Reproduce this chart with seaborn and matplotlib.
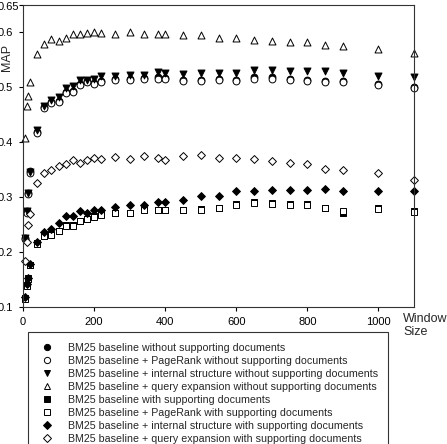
import matplotlib
matplotlib.use("Agg")
import matplotlib.pyplot as plt
from matplotlib.lines import Line2D
from matplotlib.transforms import ScaledTranslation
import seaborn as sns

# window sizes
window = [5, 10, 15, 20, 40, 60, 80, 100, 120, 140, 160, 180, 200, 220, 260, 300,
          340, 380, 400, 450, 500, 550, 600, 650, 700, 750, 800, 850, 900, 1000, 1100]

# MAP values, without supporting documents
bm25_without = [0.226, 0.274, 0.307, 0.347, 0.419, 0.465, 0.474, 0.476, 0.491, 0.494,
                0.506, 0.512, 0.508, 0.512, 0.515, 0.515, 0.517, 0.518, 0.517, 0.514,
                0.514, 0.515, 0.514, 0.518, 0.518, 0.515, 0.514, 0.512, 0.511, 0.506, 0.501]
pagerank_without = [0.224, 0.272, 0.305, 0.344, 0.417, 0.463, 0.472, 0.474, 0.489, 0.492,
                    0.504, 0.510, 0.506, 0.510, 0.513, 0.513, 0.515, 0.516, 0.515, 0.512,
                    0.512, 0.513, 0.512, 0.516, 0.516, 0.513, 0.512, 0.510, 0.509, 0.504, 0.499]
internal_without = [0.226, 0.274, 0.307, 0.346, 0.422, 0.466, 0.477, 0.482, 0.499, 0.502,
                    0.513, 0.513, 0.516, 0.521, 0.521, 0.522, 0.523, 0.528, 0.527, 0.525,
                    0.526, 0.527, 0.527, 0.532, 0.531, 0.530, 0.529, 0.529, 0.526, 0.521, 0.518]
qe_without = [0.408, 0.466, 0.484, 0.509, 0.560, 0.579, 0.588, 0.585, 0.590, 0.597,
              0.598, 0.599, 0.600, 0.599, 0.597, 0.600, 0.598, 0.597, 0.597, 0.596,
              0.595, 0.590, 0.589, 0.587, 0.585, 0.582, 0.582, 0.577, 0.576, 0.570, 0.562]

# MAP values, with supporting documents
bm25_with = [0.116, 0.140, 0.152, 0.177, 0.216, 0.230, 0.233, 0.239, 0.249, 0.249,
             0.257, 0.261, 0.265, 0.269, 0.272, 0.272, 0.278, 0.277, 0.277, 0.277,
             0.278, 0.281, 0.288, 0.292, 0.289, 0.288, 0.287, 0.281, 0.272, 0.280, 0.275]
pagerank_with = [0.114, 0.138, 0.151, 0.176, 0.215, 0.229, 0.232, 0.238, 0.248, 0.248,
                 0.256, 0.260, 0.264, 0.268, 0.271, 0.271, 0.277, 0.276, 0.276, 0.276,
                 0.277, 0.280, 0.286, 0.290, 0.288, 0.286, 0.285, 0.280, 0.274, 0.279, 0.273]
internal_with = [0.118, 0.141, 0.153, 0.178, 0.219, 0.237, 0.242, 0.253, 0.266, 0.266,
                 0.274, 0.271, 0.276, 0.277, 0.283, 0.286, 0.286, 0.291, 0.291, 0.294,
                 0.303, 0.302, 0.311, 0.311, 0.313, 0.313, 0.313, 0.314, 0.312, 0.312, 0.311]
qe_with = [0.183, 0.219, 0.250, 0.270, 0.326, 0.344, 0.349, 0.356, 0.361, 0.367,
           0.363, 0.367, 0.371, 0.369, 0.374, 0.370, 0.375, 0.371, 0.367, 0.375,
           0.376, 0.372, 0.372, 0.369, 0.365, 0.363, 0.361, 0.352, 0.349, 0.344, 0.331]

labels = [
    "BM25 baseline without supporting documents",
    "BM25 baseline + PageRank without supporting documents",
    "BM25 baseline + internal structure without supporting documents",
    "BM25 baseline + query expansion without supporting documents",
    "BM25 baseline with supporting documents",
    "BM25 baseline + PageRank with supporting documents",
    "BM25 baseline + internal structure with supporting documents",
    "BM25 baseline + query expansion with supporting documents",
]
series = [bm25_without, pagerank_without, internal_without, qe_without,
          bm25_with, pagerank_with, internal_with, qe_with]
markers = ["o", "o", "v", "^", "s", "s", "D", "D"]
fills = ["black", "white", "black", "white", "black", "white", "black", "white"]
sizes = [24, 24, 25, 25, 19, 19, 16, 16]

sns.set_style("white")
plt.rcParams["font.family"] = ["Liberation Sans", "DejaVu Sans"]

fig = plt.figure(figsize=(4.47, 4.44), dpi=100)
ax = fig.add_axes([23 / 447, 1 - 307 / 444, (414 - 23) / 447, (307 - 5) / 444])

for vals, mk, fc, sz in zip(series, markers, fills, sizes):
    sns.scatterplot(x=window, y=vals, marker=mk, color=fc, edgecolor="black",
                    linewidth=0.7, s=sz, ax=ax, legend=False)

# let the edge markers sit on the spines like the original
for coll in ax.collections:
    coll.set_clip_on(False)

ax.set_xlim(0, 1100)
ax.set_ylim(0.1, 0.65)
ax.set_xticks([0, 200, 400, 600, 800, 1000])
ax.set_yticks([0.1, 0.2, 0.3, 0.4, 0.5, 0.6, 0.65])
ax.set_yticklabels(["0.1", "0.2", "0.3", "0.4", "0.5", "0.6", "0.65"])
ax.tick_params(axis="both", direction="out", length=3, width=0.8, labelsize=8,
               pad=4, colors="black", left=True, bottom=True)
# the top label sits closer to the axis in the original
top_lab = ax.get_yticklabels()[-1]
top_lab.set_transform(top_lab.get_transform() + ScaledTranslation(0.06, -0.01, fig.dpi_scale_trans))
for sp in ax.spines.values():
    sp.set_color("#333333")
    sp.set_linewidth(0.8)
ax.set_xlabel("")
ax.set_ylabel("")

fig.text(7 / 447, 1 - 57 / 444, "MAP", rotation=90, ha="center", va="center", fontsize=9)
fig.text(403 / 447, 1 - 313 / 444, "Window\nSize", ha="left", va="top", fontsize=9,
         linespacing=1.1)

handles = [Line2D([], [], linestyle="none", marker=mk, markersize=4.5,
                  markerfacecolor=fc, markeredgecolor="black", markeredgewidth=0.7)
           for mk, fc in zip(markers, fills)]
leg = fig.legend(handles, labels, loc="upper left", bbox_to_anchor=(28 / 447, 1 - 332 / 444),
                 borderaxespad=0, fontsize=7.7, frameon=True, fancybox=False,
                 edgecolor="black", labelspacing=0.28, handlelength=1.6,
                 handletextpad=1.1, borderpad=1.0, numpoints=1)
leg.get_frame().set_linewidth(0.8)

fig.savefig("out.png", dpi=100)
